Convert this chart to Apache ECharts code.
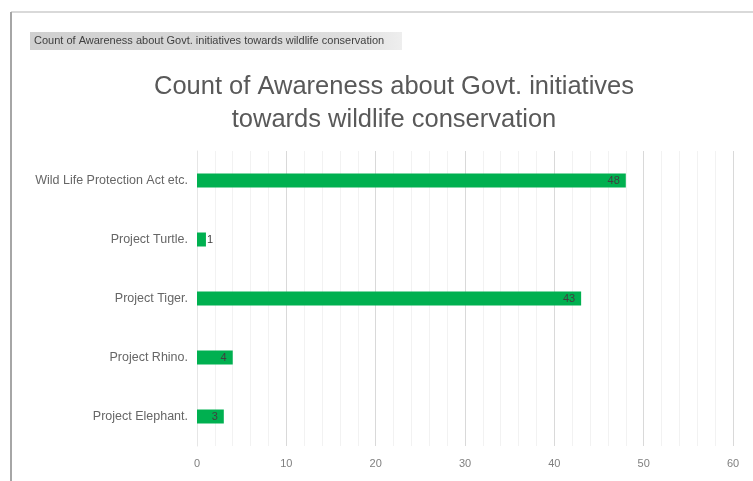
<!DOCTYPE html>
<html>
<head>
<meta charset="utf-8">
<style>
  html, body { margin: 0; padding: 0; background: #ffffff; }
  #chart { width: 753px; height: 481px; }
</style>
<script src="https://cdn.jsdelivr.net/npm/echarts@6/dist/echarts.min.js"></script>
</head>
<body>
<div id="chart"></div>
<script>
// Survey responses: awareness of government wildlife schemes
const categories = [
  'Project Elephant.',
  'Project Rhino.',
  'Project Tiger.',
  'Project Turtle.',
  'Wild Life Protection Act etc.'
];
const counts = [3, 4, 43, 1, 48];
const xTicks = [0, 10, 20, 30, 40, 50, 60];

const chart = echarts.init(document.getElementById('chart'), null, { renderer: 'canvas' });
const FONT = '"Liberation Sans", Arial, sans-serif';

chart.setOption({
  animation: false,
  backgroundColor: '#ffffff',
  title: {
    text: 'Count of Awareness about Govt. initiatives\ntowards wildlife conservation',
    left: 389,
    top: 65,
    textAlign: 'center',
    textStyle: {
      fontFamily: FONT,
      fontSize: 25.5,
      fontWeight: 'normal',
      color: '#595959',
      lineHeight: 33
    }
  },
  graphic: [
    // outer frame
    { type: 'line', shape: { x1: 11, y1: 12, x2: 753, y2: 12 }, style: { stroke: '#d9d9d9', lineWidth: 2 } },
    { type: 'line', shape: { x1: 11, y1: 12, x2: 11, y2: 481 }, style: { stroke: '#a6a6a6', lineWidth: 2 } },
    // field button header
    {
      type: 'rect',
      shape: { x: 30, y: 32, width: 372, height: 18 },
      style: {
        fill: new echarts.graphic.LinearGradient(0, 0, 1, 0, [
          { offset: 0, color: '#d0d0d0' },
          { offset: 0.85, color: '#dedede' },
          { offset: 1, color: '#eeeeee' }
        ])
      }
    },
    {
      type: 'text',
      left: 34,
      top: 35,
      style: {
        text: 'Count of Awareness about Govt. initiatives towards wildlife conservation',
        font: '11px ' + FONT,
        fill: '#404040'
      }
    }
  ],
  grid: {
    left: 197,
    right: 20,
    top: 151,
    bottom: 35,
    containLabel: false
  },
  xAxis: {
    type: 'value',
    min: 0,
    max: 60,
    interval: 10,
    axisLine: { show: false },
    axisTick: { show: false },
    axisLabel: {
      fontFamily: FONT,
      fontSize: 11,
      color: '#7f7f7f',
      margin: 12,
      formatter: v => (xTicks.includes(v) ? String(v) : '')
    },
    splitLine: { show: true, lineStyle: { color: '#d9d9d9', width: 1 } },
    minorTick: { show: false, splitNumber: 5 },
    minorSplitLine: { show: true, lineStyle: { color: '#f2f2f2', width: 1 } }
  },
  yAxis: {
    type: 'category',
    data: categories,
    axisLine: { show: true, lineStyle: { color: '#e6e6e6' } },
    axisTick: { show: false },
    axisLabel: {
      fontFamily: FONT,
      fontSize: 12.5,
      color: '#666666',
      margin: 9
    }
  },
  series: [{
    type: 'bar',
    data: counts.map(v => ({
      value: v,
      label: v < 2 ? { position: 'right', distance: 1 } : {}
    })),
    barWidth: 14,
    itemStyle: { color: '#00b050' },
    label: {
      show: true,
      position: 'insideRight',
      distance: 6,
      fontFamily: FONT,
      fontSize: 11,
      color: '#404040'
    }
  }]
});
</script>
</body>
</html>
